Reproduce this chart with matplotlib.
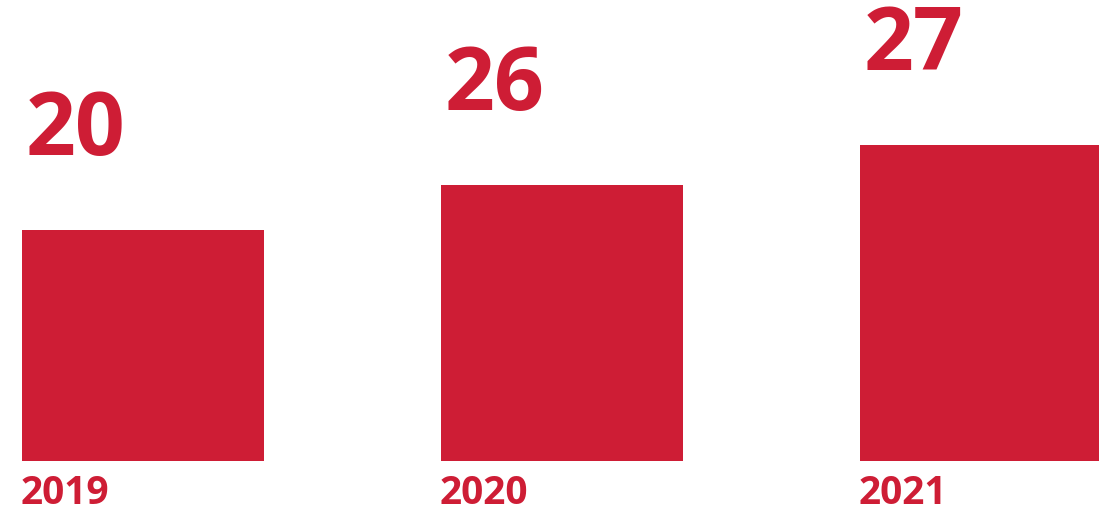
import matplotlib
matplotlib.use("Agg")
import matplotlib.pyplot as plt

years = ["2019", "2020", "2021"]
value_labels = ["20", "26", "27"]
# bar heights as drawn (not strictly proportional to the labels)
bar_heights = [20, 23.9, 27.4]

red = "#CE1D35"
plt.rcParams["font.family"] = ["Open Sans", "DejaVu Sans"]

fig = plt.figure(figsize=(10.99, 5.08), dpi=100)
ax = fig.add_axes([0, 47 / 508, 1, 461 / 508])

x = list(range(len(years)))
width = 0.578
ax.bar(x, bar_heights, width=width, color=red, align="center")

ax.set_xlim(-143 / 419, (1099 - 143) / 419)
ax.set_ylim(0, 461 / 11.55)

for i, (h, lab) in enumerate(zip(bar_heights, value_labels)):
    ax.annotate(lab, (i - width / 2, h), xytext=(3, 54), textcoords="offset points",
                ha="left", va="baseline", fontsize=63, fontweight="bold", color=red)
    ax.annotate(years[i], (i - width / 2, 0), xytext=(-1, -31), textcoords="offset points",
                ha="left", va="baseline", fontsize=28, fontweight="bold", color=red,
                annotation_clip=False)

ax.axis("off")
fig.savefig("out.png", dpi=100)
